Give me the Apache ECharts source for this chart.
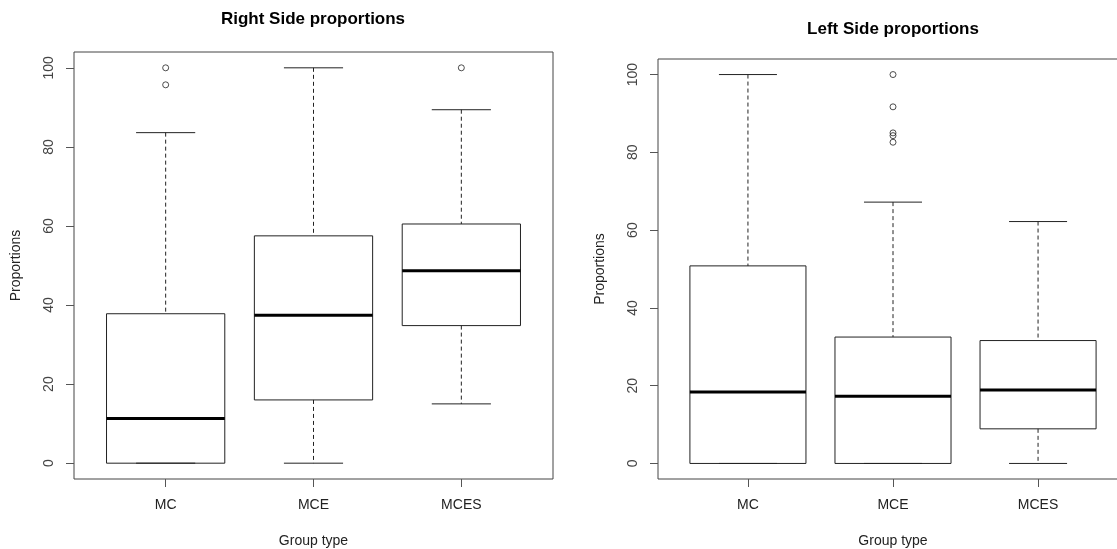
<!DOCTYPE html>
<html>
<head>
<meta charset="utf-8">
<script src="https://cdn.jsdelivr.net/npm/echarts@6/dist/echarts.min.js"></script>
<style>
  html, body { margin: 0; background: #fff; }
  #main { width: 1117px; height: 549px; }
</style>
</head>
<body>
<div id="main"></div>
<script>
const groups = ['MC', 'MCE', 'MCES'];
const yTicks = [0, 20, 40, 60, 80, 100];

// [lower whisker, Q1, median, Q3, upper whisker]
const rightSideStats = [
  [0, 0, 11.3, 37.8, 83.6],
  [0, 16.0, 37.4, 57.5, 100],
  [15.0, 34.8, 48.7, 60.5, 89.4]
];
// [group number, value]
const rightSideOutliers = [[1, 100], [1, 95.7], [3, 100]];

const leftSideStats = [
  [0, 0, 18.4, 50.8, 100],
  [0, 0, 17.3, 32.5, 67.2],
  [0, 8.9, 18.9, 31.6, 62.2]
];
const leftSideOutliers = [[2, 100], [2, 91.7], [2, 85.0], [2, 84.3], [2, 82.6]];

const FONT = 'Liberation Sans, Arial, sans-serif';
const LINE = '#222';

function renderBox(params, api) {
  const x = api.value(0);
  const lo = api.coord([x, api.value(1)]);
  const q1 = api.coord([x, api.value(2)]);
  const md = api.coord([x, api.value(3)]);
  const q3 = api.coord([x, api.value(4)]);
  const hi = api.coord([x, api.value(5)]);
  const unit = api.size([1, 0])[0];
  const bw = unit * 0.4, cw = unit * 0.2;
  const cx = lo[0];
  const dashed = { stroke: LINE, lineWidth: 1, lineDash: [4, 3] };
  const solid = { stroke: LINE, lineWidth: 1 };
  const line = (x1, y1, x2, y2, style) => ({ type: 'line', shape: { x1, y1, x2, y2 }, style });
  return {
    type: 'group',
    children: [
      line(cx, hi[1], cx, q3[1], dashed),
      line(cx, q1[1], cx, lo[1], dashed),
      line(cx - cw, hi[1], cx + cw, hi[1], solid),
      line(cx - cw, lo[1], cx + cw, lo[1], solid),
      { type: 'rect', shape: { x: cx - bw, y: q3[1], width: 2 * bw, height: q1[1] - q3[1] },
        style: { fill: 'rgba(0,0,0,0)', stroke: LINE, lineWidth: 1 } },
      line(cx - bw, md[1], cx + bw, md[1], { stroke: '#000', lineWidth: 3 })
    ]
  };
}

function xAxis(gridIndex) {
  return {
    type: 'value', gridIndex, min: 0.38, max: 3.62,
    splitLine: { show: false }, axisLine: { show: false, onZero: false },
    axisTick: { show: true, customValues: [1, 2, 3], length: 8, lineStyle: { color: '#555' } },
    axisLabel: { customValues: [1, 2, 3], formatter: v => groups[Math.round(v) - 1],
      margin: 19, fontSize: 14, color: '#222', fontFamily: FONT },
    name: 'Group type', nameLocation: 'middle', nameGap: 55,
    nameTextStyle: { fontSize: 14, color: '#222', fontFamily: FONT }
  };
}

function yAxis(gridIndex) {
  return {
    type: 'value', gridIndex, min: -4, max: 104,
    splitLine: { show: false }, axisLine: { show: false, onZero: false },
    axisTick: { show: true, customValues: yTicks, length: 8, lineStyle: { color: '#555' } },
    axisLabel: { customValues: yTicks, rotate: 90, margin: 18, fontSize: 14, color: '#444', fontFamily: FONT },
    name: 'Proportions', nameLocation: 'middle', nameGap: 51, nameRotate: 90,
    nameTextStyle: { fontSize: 14, color: '#222', fontFamily: FONT }
  };
}

const toBoxData = stats => stats.map((s, i) => [i + 1].concat(s));

const chart = echarts.init(document.getElementById('main'));
chart.setOption({
  animation: false,
  graphic: [
    { type: 'text', x: 313, y: 19, style: { text: 'Right Side proportions', textAlign: 'center',
      textVerticalAlign: 'middle', font: 'bold 17px ' + FONT, fill: '#000' } },
    { type: 'text', x: 893, y: 29, style: { text: 'Left Side proportions', textAlign: 'center',
      textVerticalAlign: 'middle', font: 'bold 17px ' + FONT, fill: '#000' } }
  ],
  grid: [
    { left: 74, top: 52, width: 479, height: 427, show: true, borderColor: '#444', borderWidth: 1,
      outerBoundsMode: 'none', containLabel: false },
    { left: 658, top: 59, width: 470, height: 420, show: true, borderColor: '#444', borderWidth: 1,
      outerBoundsMode: 'none', containLabel: false }
  ],
  xAxis: [xAxis(0), xAxis(1)],
  yAxis: [yAxis(0), yAxis(1)],
  series: [
    { type: 'custom', xAxisIndex: 0, yAxisIndex: 0, renderItem: renderBox,
      encode: { x: 0, y: [1, 2, 3, 4, 5] }, data: toBoxData(rightSideStats) },
    { type: 'scatter', xAxisIndex: 0, yAxisIndex: 0, symbol: 'circle', symbolSize: 6,
      itemStyle: { color: '#fff', borderColor: '#222', borderWidth: 1 }, data: rightSideOutliers },
    { type: 'custom', xAxisIndex: 1, yAxisIndex: 1, renderItem: renderBox,
      encode: { x: 0, y: [1, 2, 3, 4, 5] }, data: toBoxData(leftSideStats) },
    { type: 'scatter', xAxisIndex: 1, yAxisIndex: 1, symbol: 'circle', symbolSize: 6,
      itemStyle: { color: 'rgba(0,0,0,0)', borderColor: '#222', borderWidth: 1 }, data: leftSideOutliers }
  ]
});
</script>
</body>
</html>
